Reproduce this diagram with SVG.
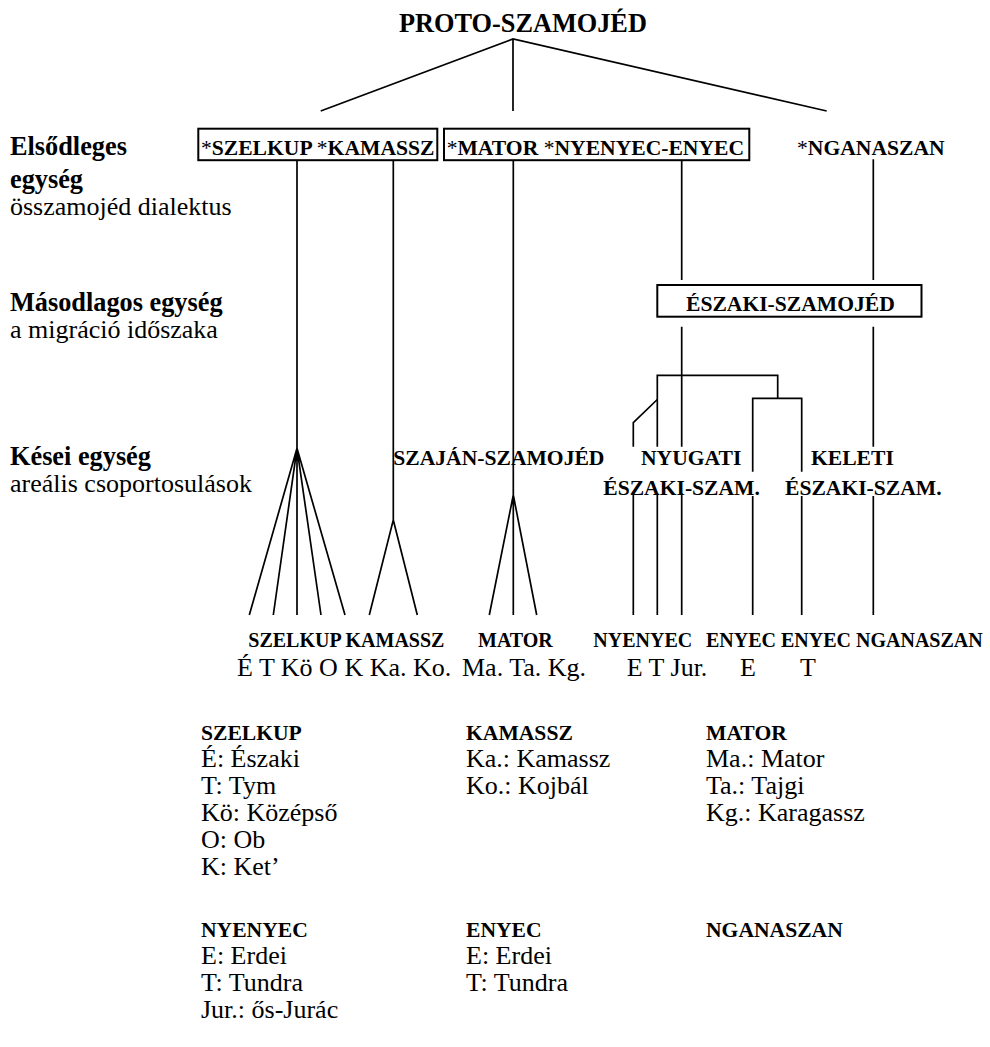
<svg xmlns="http://www.w3.org/2000/svg" width="990" height="1047" viewBox="0 0 990 1047">
<style>
text{font-family:"Liberation Serif","Times New Roman",serif;fill:#000}
.t{font-size:26.3px;font-weight:bold}
.lb{font-size:26.3px;font-weight:bold}
.r{font-size:26px}
.b{font-size:21.6px;font-weight:bold}
.bs{font-size:20px;font-weight:bold}
.ast{font-weight:normal}
.box{fill:none;stroke:#000;stroke-width:2}
.c{fill:none;stroke:#000;stroke-width:1.7}
</style>
<rect width="990" height="1047" fill="#fff"/>

<g id="title"><text class="t" x="399" y="32">PROTO-SZAMOJÉD</text></g>

<g id="levels">
<text class="lb" x="10" y="155">Elsődleges</text>
<text class="lb" x="10" y="188">egység</text>
<text class="r" x="10" y="215">összamojéd dialektus</text>
<text class="lb" x="10" y="311">Másodlagos egység</text>
<text class="r" x="10" y="338">a migráció időszaka</text>
<text class="lb" x="10" y="465">Kései egység</text>
<text class="r" x="10" y="492">areális csoportosulások</text>
</g>

<g id="box-szelkup-kamassz">
<rect class="box" x="198.3" y="128.7" width="239" height="31.5"/>
<text class="b" x="201" y="155"><tspan class="ast">*</tspan>SZELKUP <tspan class="ast">*</tspan>KAMASSZ</text>
</g>
<g id="box-mator-nyenyec">
<rect class="box" x="444" y="128.7" width="305.3" height="31.5"/>
<text class="b" x="446.7" y="155"><tspan class="ast">*</tspan>MATOR <tspan class="ast">*</tspan>NYENYEC-ENYEC</text>
</g>
<g id="nganaszan-top"><text class="b" x="797" y="155"><tspan class="ast">*</tspan>NGANASZAN</text></g>

<g id="box-eszaki">
<rect class="box" x="657.3" y="285" width="264.2" height="31.7"/>
<text class="b" x="686" y="310.7">ÉSZAKI-SZAMOJÉD</text>
</g>

<g id="sajan"><text class="b" x="393.3" y="465">SZAJÁN-SZAMOJÉD</text></g>
<g id="nyugati">
<text class="b" x="641" y="465">NYUGATI</text>
<text class="b" x="603.3" y="495">ÉSZAKI-SZAM.</text>
</g>
<g id="keleti">
<text class="b" x="811" y="465">KELETI</text>
<text class="b" x="785" y="495">ÉSZAKI-SZAM.</text>
</g>

<g id="leaves">
<text class="bs" x="248.3" y="646.7">SZELKUP KAMASSZ</text>
<text class="bs" x="478" y="646.7">MATOR</text>
<text class="bs" x="593.3" y="646.7">NYENYEC</text>
<text class="bs" x="706" y="646.7">ENYEC ENYEC NGANASZAN</text>
<text class="r" x="237" y="675.5">É T Kö O K Ka. Ko.</text>
<text class="r" x="462" y="675.5">Ma. Ta. Kg.</text>
<text class="r" x="626.7" y="675.5">E T Jur.</text>
<text class="r" x="740" y="675.5">E</text>
<text class="r" x="800" y="675.5">T</text>
</g>

<g id="connectors">
<path class="c" d="M320.7,111 L513,39 L826.7,111 M513,39 V111"/>
<path class="c" d="M297,160 V448.3 M297,448.3 L249.3,615 M297,448.3 L273.3,615 M297,448.3 V615 M297,448.3 L321,615 M297,448.3 L345,615"/>
<path class="c" d="M393.3,160 V520 L369.3,615 M393.3,520 L417.3,615"/>
<path class="c" d="M513.3,160 V615 M513.3,495 L489.3,615 M513.3,495 L536.7,615"/>
<path class="c" d="M681.7,160 V280 M873.3,159.3 V280"/>
<path class="c" d="M681.7,326.7 V446.7 M873.3,326.7 V446.7"/>
<path class="c" d="M657.3,446.7 V375.3 H777.7 V398.3 M752.7,471.7 V398.3 H801.7 V471.7"/>
<path class="c" d="M657.3,399.5 L633.3,422.7 V446.7"/>
<path class="c" d="M633.3,493 V615 M657.3,493 V615 M681.7,493 V615 M752.7,496 V615 M801.7,496 V615 M873.3,496 V615"/>
</g>

<g id="legend">
<text class="b" x="201" y="740">SZELKUP</text>
<text class="r" x="201" y="767">É: Északi</text>
<text class="r" x="201" y="794">T: Tym</text>
<text class="r" x="201" y="821">Kö: Középső</text>
<text class="r" x="201" y="848">O: Ob</text>
<text class="r" x="201" y="875">K: Ket’</text>
<text class="b" x="466" y="740">KAMASSZ</text>
<text class="r" x="466" y="767">Ka.: Kamassz</text>
<text class="r" x="466" y="794">Ko.: Kojbál</text>
<text class="b" x="706" y="740">MATOR</text>
<text class="r" x="706" y="767">Ma.: Mator</text>
<text class="r" x="706" y="794">Ta.: Tajgi</text>
<text class="r" x="706" y="821">Kg.: Karagassz</text>
<text class="b" x="201" y="937">NYENYEC</text>
<text class="r" x="201" y="964">E: Erdei</text>
<text class="r" x="201" y="991">T: Tundra</text>
<text class="r" x="201" y="1018">Jur.: ős-Jurác</text>
<text class="b" x="466" y="937">ENYEC</text>
<text class="r" x="466" y="964">E: Erdei</text>
<text class="r" x="466" y="991">T: Tundra</text>
<text class="b" x="706" y="937">NGANASZAN</text>
</g>
</svg>
